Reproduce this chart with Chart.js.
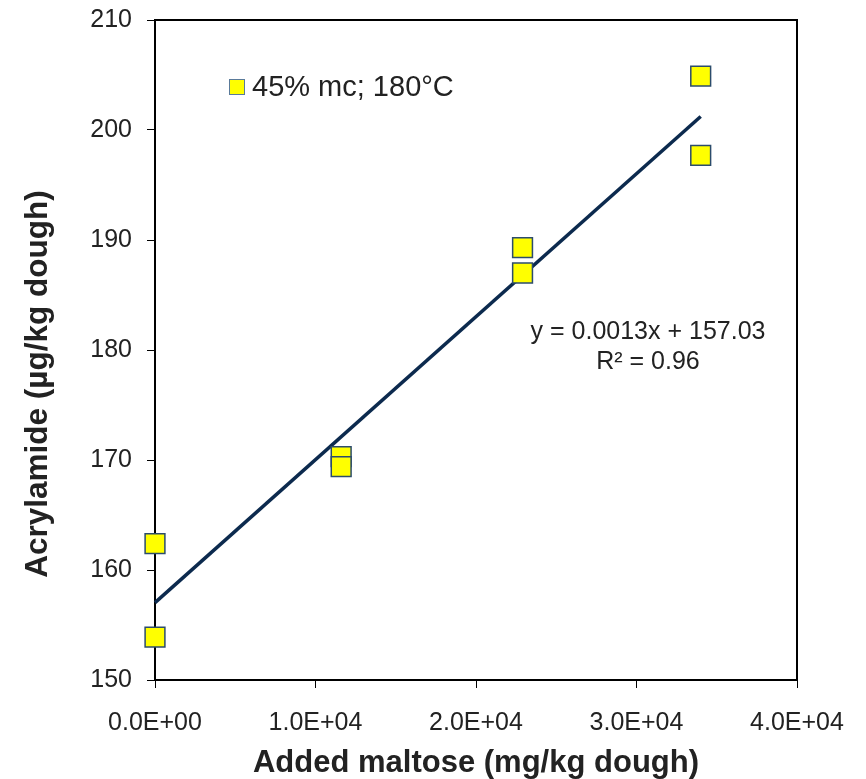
<!DOCTYPE html>
<html>
<head>
<meta charset="utf-8">
<script src="https://cdn.jsdelivr.net/npm/chart.js@4.4.0/dist/chart.umd.min.js"></script>
<style>
  html, body { margin: 0; padding: 0; background: #fff; }
  #wrap { width: 866px; height: 779px; }
</style>
</head>
<body>
<div id="wrap"><canvas id="myChart" width="866" height="779"></canvas></div>
<script>
// measured points (added maltose mg/kg, acrylamide ug/kg)
var maltose = [0, 0, 11600, 11600, 22900, 22900, 34000, 34000];
var acrylamide = [162.4, 153.9, 170.3, 169.4, 189.3, 187.0, 204.9, 197.7];
var trendX = [0, 34000];
var slope = 0.0013, intercept = 157.03;
var xTicks = [0, 10000, 20000, 30000, 40000];
var seriesName = '45% mc; 180\u00b0C';
var eqLines = ['y = 0.0013x + 157.03', 'R\u00b2 = 0.96'];
var yTitle = 'Acrylamide (\u00b5g/kg dough)';

var points = maltose.map(function (x, i) { return {x: x, y: acrylamide[i]}; });
var trend = trendX.map(function (x) { return {x: x, y: slope * x + intercept}; });

function sci(v) {
    if (v === 0) return '0.0E+00';
    var e = Math.floor(Math.log10(v));
    var m = v / Math.pow(10, e);
    return m.toFixed(1) + 'E+' + (e < 10 ? '0' + e : e);
}

var FONT = '"Liberation Sans", Arial, sans-serif';

var extras = {
    id: 'extras',
    beforeDatasetsDraw: function (chart) {
        var ctx = chart.ctx, a = chart.chartArea;
        ctx.save();
        ctx.strokeStyle = '#000';
        ctx.lineWidth = 2;
        ctx.strokeRect(a.left, a.top, a.right - a.left, a.bottom - a.top);
        ctx.restore();
    },
    afterDraw: function (chart) {
        var ctx = chart.ctx;
        ctx.save();
        // y axis title (sits a bit below the plot centre in the original)
        ctx.save();
        ctx.translate(38, 384);
        ctx.rotate(-Math.PI / 2);
        ctx.fillStyle = '#222';
        ctx.font = 'bold 31.5px ' + FONT;
        ctx.textAlign = 'center';
        ctx.textBaseline = 'middle';
        ctx.fillText(yTitle, 0, 0);
        ctx.restore();
        // legend
        ctx.fillStyle = '#ffff00';
        ctx.fillRect(229, 79, 16, 16);
        ctx.strokeStyle = '#5a7a9a';
        ctx.lineWidth = 1;
        ctx.strokeRect(229.5, 79.5, 15, 15);
        ctx.fillStyle = '#222';
        ctx.font = '29px ' + FONT;
        ctx.textBaseline = 'middle';
        ctx.textAlign = 'left';
        ctx.fillText(seriesName, 252, 88);
        // equation
        ctx.font = '25px ' + FONT;
        ctx.textAlign = 'center';
        ctx.fillText(eqLines[0], 648, 332);
        ctx.fillText(eqLines[1], 648, 362);
        ctx.restore();
    }
};

new Chart(document.getElementById('myChart').getContext('2d'), {
    type: 'scatter',
    data: {
        datasets: [{
            type: 'line',
            data: trend,
            borderColor: '#0c2a4e',
            borderWidth: 3.5,
            pointRadius: 0,
            fill: false,
            clip: false,
            order: 2
        }, {
            data: points,
            pointStyle: 'rect',
            pointRadius: 14,
            backgroundColor: '#ffff00',
            borderColor: '#2c4c6c',
            borderWidth: 1.5,
            clip: false,
            order: 1
        }]
    },
    options: {
        responsive: false,
        animation: false,
        layout: { padding: { top: 20, right: 69, left: 0, bottom: 0 } },
        plugins: { legend: { display: false }, tooltip: { enabled: false } },
        scales: {
            x: {
                type: 'linear',
                min: 0, max: 40000,
                afterBuildTicks: function (s) { s.ticks = xTicks.map(function (v) { return {value: v}; }); },
                afterFit: function (s) { s.height = 99; s.paddingLeft = 0; s.paddingRight = 0; },
                grid: { drawOnChartArea: false, drawTicks: true, tickLength: 8, color: '#000' },
                border: { color: '#000', width: 2 },
                ticks: { callback: sci, color: '#222', font: { family: FONT, size: 25 }, padding: 20, maxRotation: 0 },
                title: { display: true, text: 'Added maltose (mg/kg dough)', color: '#222',
                         font: { family: FONT, size: 31, weight: 'bold', lineHeight: 1 }, padding: { top: 0, bottom: 0 } }
            },
            y: {
                min: 150, max: 210,
                ticks: { stepSize: 10, color: '#222', font: { family: FONT, size: 25 }, padding: 15 },
                afterFit: function (s) { s.width = 155; s.paddingTop = 0; s.paddingBottom = 0; },
                grid: { drawOnChartArea: false, drawTicks: true, tickLength: 8, color: '#000' },
                border: { color: '#000', width: 2 },
                title: { display: false }
            }
        }
    },
    plugins: [extras]
});
</script>
</body>
</html>
